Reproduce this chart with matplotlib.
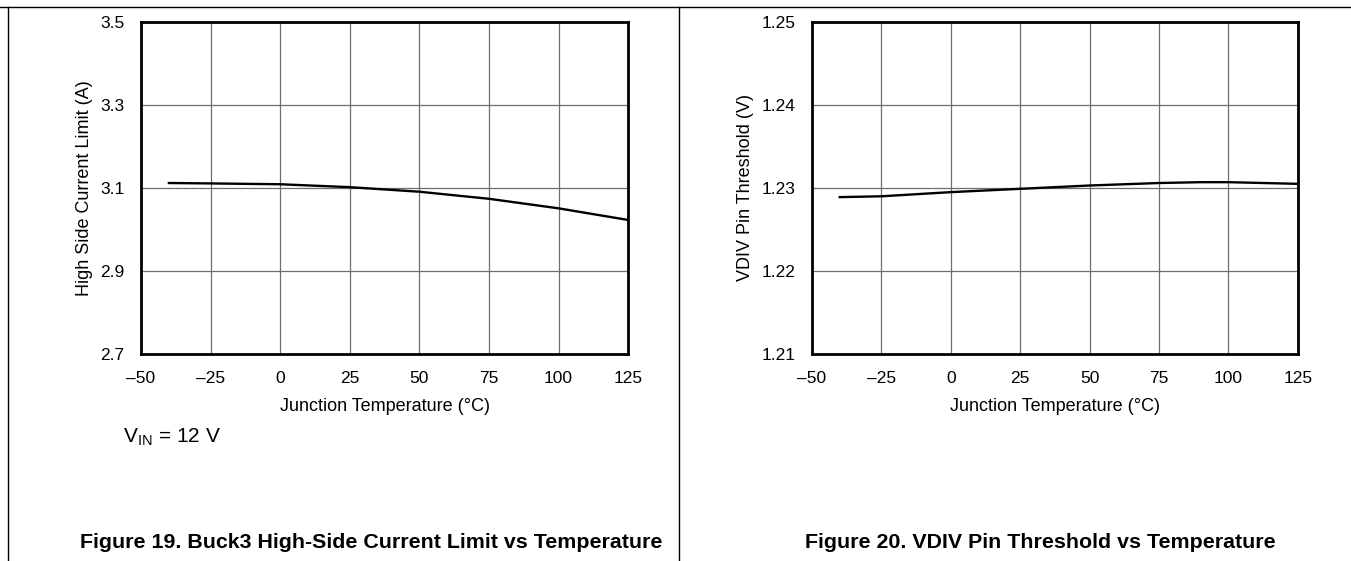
import matplotlib
matplotlib.use("Agg")
from matplotlib import pyplot as plt
from matplotlib.lines import Line2D

plt.rcParams['font.family'] = ['Liberation Sans', 'DejaVu Sans']
plt.rcParams['mathtext.fontset'] = 'custom'
plt.rcParams['mathtext.rm'] = 'Liberation Sans'

# Figure 19: high side current limit vs temperature
temp_hs = [-40, -25, 0, 25, 50, 75, 100, 125]
current_hs = [3.112, 3.111, 3.109, 3.102, 3.091, 3.074, 3.051, 3.023]

# Figure 20: VDIV pin threshold vs temperature
temp_vdiv = [-40, -25, 0, 25, 50, 75, 90, 100, 125]
vdiv = [1.2289, 1.2290, 1.2295, 1.2299, 1.2303, 1.2306, 1.2307, 1.2307, 1.2305]

x_ticks = [-50, -25, 0, 25, 50, 75, 100, 125]
x_labels = ['\u201350', '\u201325', '0', '25', '50', '75', '100', '125']
y_ticks_hs = [2.7, 2.9, 3.1, 3.3, 3.5]
y_ticks_vdiv = [1.21, 1.22, 1.23, 1.24, 1.25]


def style_axes(ax, yticks, ylabels, ylabel):
    ax.set_xlim(-50, 125)
    ax.set_ylim(yticks[0], yticks[-1])
    ax.set_xticks(x_ticks)
    ax.set_xticklabels(x_labels)
    ax.set_yticks(yticks)
    ax.set_yticklabels(ylabels)
    ax.grid(True, color='#6e6e6e', linewidth=0.9)
    ax.set_axisbelow(True)
    ax.tick_params(length=0, labelsize=12.5, pad=12)
    for sp in ax.spines.values():
        sp.set_linewidth(2.0)
        sp.set_color('black')
    ax.set_xlabel('Junction Temperature (\u00b0C)', fontsize=13, labelpad=9)
    ax.set_ylabel(ylabel, fontsize=13, labelpad=5)


def main():
    fig = plt.figure(figsize=(13.51, 5.61), dpi=100)

    ax1 = fig.add_axes([0.1044, 0.369, 0.3605, 0.5918])
    ax1.plot(temp_hs, current_hs, color='black', linewidth=1.7)
    style_axes(ax1, y_ticks_hs, ['2.7', '2.9', '3.1', '3.3', '3.5'],
               'High Side Current Limit (A)')

    ax2 = fig.add_axes([0.601, 0.369, 0.3597, 0.5918])
    ax2.plot(temp_vdiv, vdiv, color='black', linewidth=1.7)
    style_axes(ax2, y_ticks_vdiv, ['1.21', '1.22', '1.23', '1.24', '1.25'],
               'VDIV Pin Threshold (V)')

    fig.text(123 / 1351, 1 - 437 / 561, r'$\mathregular{V_{IN}}$ = 12 V',
             fontsize=15, va='center', ha='left')
    fig.text(371 / 1351, 1 - 543 / 561,
             'Figure 19. Buck3 High-Side Current Limit vs Temperature',
             fontsize=15.4, fontweight='bold', ha='center', va='center')
    fig.text(1040 / 1351, 1 - 543 / 561,
             'Figure 20. VDIV Pin Threshold vs Temperature',
             fontsize=15.4, fontweight='bold', ha='center', va='center')

    # page frame lines
    top = 1 - 7 / 561
    fig.add_artist(Line2D([0, 1], [top, top], color='black', linewidth=1.0,
                          transform=fig.transFigure))
    for xp in [8, 679]:
        fig.add_artist(Line2D([xp / 1351, xp / 1351], [0, top], color='black',
                              linewidth=1.0, transform=fig.transFigure))

    fig.savefig('out.png', dpi=100)


if __name__ == "__main__":
    main()
